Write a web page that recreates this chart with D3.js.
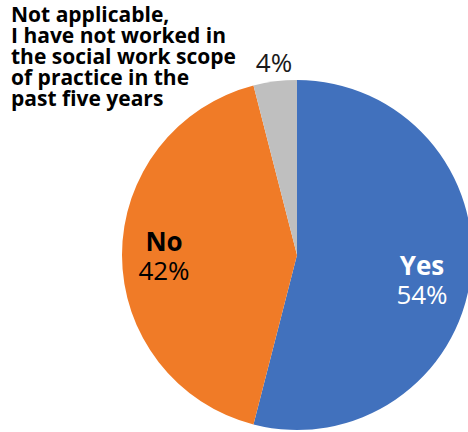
<!DOCTYPE html>
<html>
<head>
<meta charset="utf-8">
<script src="https://cdn.jsdelivr.net/npm/d3@7"></script>
<style>
  html, body { margin: 0; padding: 0; background: #fff; }
  svg { display: block; font-family: "Open Sans", sans-serif; }
</style>
</head>
<body>
<svg id="chart" width="468" height="432"></svg>
<script>
// Survey answers and their shares of respondents
const categories = ["Yes", "No", "Not applicable"];
const values = [54, 42, 4];
const colors = ["#4171BD", "#F07B27", "#BFBFBF"];
const notApplicableLines = [
  "Not applicable,",
  "I have not worked in",
  "the social work scope",
  "of practice in the",
  "past five years"
];

const svg = d3.select("#chart");
const cx = 297, cy = 255, radius = 175;

const pie = d3.pie().value(d => d.value).sort(null);
const arcs = pie(categories.map((c, i) => ({ category: c, value: values[i], color: colors[i] })));
const arc = d3.arc().innerRadius(0).outerRadius(radius);

const g = svg.append("g").attr("transform", `translate(${cx},${cy})`);

g.selectAll("path")
  .data(arcs)
  .join("path")
  .attr("d", arc)
  .attr("fill", d => d.data.color);

// In-slice labels for Yes and No
const inner = [
  { idx: 0, x: 125, y: 20, fill: "#fff" },
  { idx: 1, x: -133, y: -4, fill: "#000" }
];
inner.forEach(l => {
  const d = arcs[l.idx];
  const t = g.append("text")
    .attr("text-anchor", "middle")
    .attr("fill", l.fill)
    .attr("font-size", 26);
  t.append("tspan")
    .attr("x", l.x).attr("y", l.y)
    .attr("font-weight", 700)
    .text(d.data.category);
  t.append("tspan")
    .attr("x", l.x).attr("dy", 29)
    .text(d.data.value + "%");
});

// Outside label for the small slice
g.append("text")
  .attr("x", -23).attr("y", -183)
  .attr("text-anchor", "middle")
  .attr("font-size", 26)
  .attr("fill", "#1a1a1a")
  .text(values[2] + "%");

const note = svg.append("text")
  .attr("font-size", 21)
  .attr("font-weight", 700)
  .attr("fill", "#000");
notApplicableLines.forEach((line, i) => {
  note.append("tspan")
    .attr("x", 11)
    .attr("y", 22 + i * 21)
    .text(line);
});
</script>
</body>
</html>
